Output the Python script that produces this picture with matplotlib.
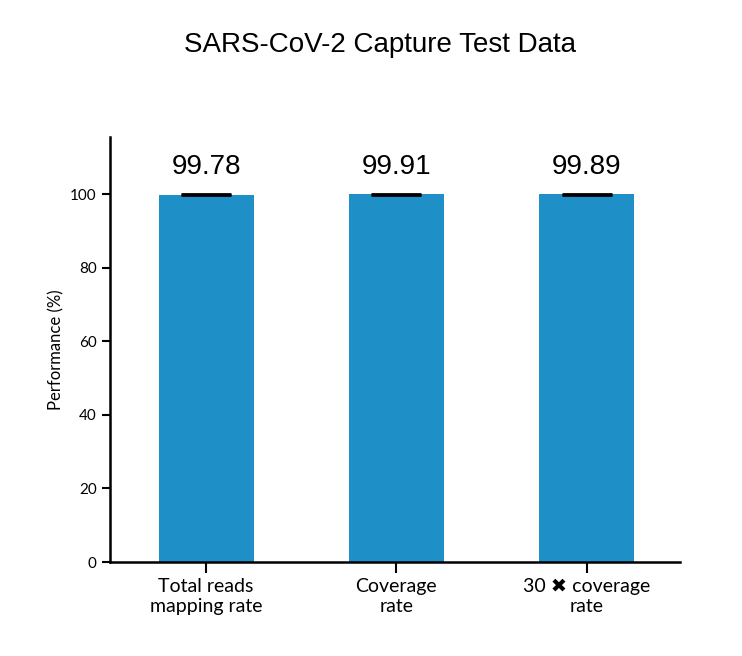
import matplotlib
matplotlib.use("Agg")
import matplotlib.pyplot as plt

categories = ["Total reads\nmapping rate", "Coverage\nrate", "30 \u2716 coverage\nrate"]
values = [99.78, 99.91, 99.89]
errors = [0.1, 0.05, 0.05]
yticks = [0, 20, 40, 60, 80, 100]

plt.rcParams["font.family"] = ["Lato", "DejaVu Sans"]
fig = plt.figure(figsize=(7.42, 6.56), dpi=100)
ax = fig.add_axes([110/742, 1-562/656, 570/742, (562-137)/656])
x = list(range(len(categories)))
ax.bar(x, values, width=0.5, color="#1f8fc8", zorder=2)
ax.errorbar(x, values, yerr=errors, fmt="none", ecolor="black", elinewidth=1.5,
            capsize=18, capthick=2, zorder=3)
for xi, v in zip(x, values):
    ax.text(xi, v + 4, f"{v:.2f}", ha="center", va="bottom", fontsize=20,
            family="Liberation Sans")
ax.set_xlim(-0.505, 2.49)
ax.set_ylim(0, 115.5)
ax.set_yticks(yticks)
ax.set_xticks(x)
ax.set_xticklabels(categories, fontsize=14)
ax.tick_params(axis="y", labelsize=11, width=1.5, length=6)
ax.tick_params(axis="x", width=1.5, length=8)
ax.set_ylabel("Performance (%)", fontsize=12)
for s in ["top", "right"]:
    ax.spines[s].set_visible(False)
for s in ["left", "bottom"]:
    ax.spines[s].set_linewidth(1.8)
fig.text(380/742, 1-45/656, "SARS-CoV-2 Capture Test Data", ha="center", va="center",
         fontsize=20, family="Liberation Sans")
fig.savefig("out.png", dpi=100)
